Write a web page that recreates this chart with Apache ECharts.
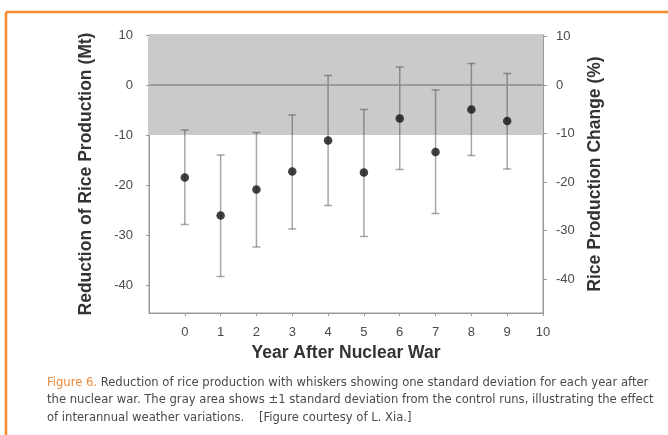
<!DOCTYPE html>
<html><head><meta charset="utf-8">
<script src="https://cdn.jsdelivr.net/npm/echarts@6/dist/echarts.min.js"></script>
<style>html,body{margin:0;padding:0;background:#fff}#c{width:668px;height:435px}</style>
</head><body><div id="c"></div>
<script>
// Data
const years = [0, 1, 2, 3, 4, 5, 6, 7, 8, 9];
const meanMt = [-18.5, -26.1, -20.9, -17.3, -11.1, -17.5, -6.7, -13.4, -4.9, -7.2];
const upperMt = [-9.0, -14.0, -9.5, -6.0, 1.9, -4.9, 3.6, -1.0, 4.3, 2.3];
const lowerMt = [-27.9, -38.3, -32.4, -28.8, -24.1, -30.3, -16.9, -25.7, -14.1, -16.8];
const controlBand = [-10, 10];
const yTicks = [10, 0, -10, -20, -30, -40];
const xTicks = [0, 1, 2, 3, 4, 5, 6, 7, 8, 9, 10];
const captionLines = [
  ['Figure 6.', ' Reduction of rice production with whiskers showing one standard deviation for each year after'],
  ['', 'the nuclear war. The gray area shows \u00b11 standard deviation from the control runs, illustrating the effect'],
  ['', 'of interannual weather variations.    [Figure courtesy of L. Xia.]']
];

const chart = echarts.init(document.getElementById('c'), null, {renderer: 'canvas'});
const font = '"Liberation Sans", Arial, sans-serif';
const capFont = '12.9px "Liberation Sans Narrow", "DejaVu Sans Condensed", sans-serif';
const axisCol = '#9a9a9a';
const labelCol = '#4a4a4a';

const errData = years.map((y, i) => [y, lowerMt[i], upperMt[i]]);

const captionGraphics = captionLines.map((ln, i) => ({
  type: 'text', left: 47, top: 376 + i * 17.5,
  style: {
    text: (ln[0] ? '{o|' + ln[0] + '}' : '') + '{t|' + ln[1] + '}',
    rich: {
      o: {fill: '#f0883a', font: capFont},
      t: {fill: '#4a4a4a', font: capFont}
    }
  }
}));

chart.setOption({
  animation: false,
  grid: {left: 149, right: 125, top: 35, bottom: 122, show: true, borderColor: axisCol, borderWidth: 1},
  xAxis: {
    type: 'value', min: -1, max: 10,
    name: 'Year After Nuclear War', nameLocation: 'middle', nameGap: 25,
    nameTextStyle: {fontFamily: font, fontWeight: 'bold', fontSize: 17.5, color: '#333'},
    splitLine: {show: false},
    axisLine: {onZero: false, lineStyle: {color: axisCol}},
    axisTick: {customValues: xTicks, length: 3, lineStyle: {color: axisCol}},
    axisLabel: {customValues: xTicks, margin: 13, fontFamily: font, fontSize: 13, color: labelCol}
  },
  yAxis: [{
    type: 'value', min: -45.6, max: 10, position: 'left',
    name: 'Reduction of Rice Production (Mt)', nameLocation: 'middle', nameGap: 54, nameRotate: 90,
    nameTextStyle: {fontFamily: font, fontWeight: 'bold', fontSize: 17.5, color: '#333'},
    splitLine: {show: false},
    axisLine: {show: true, onZero: false, lineStyle: {color: axisCol}},
    axisTick: {show: true, customValues: yTicks, length: 3, lineStyle: {color: axisCol}},
    axisLabel: {customValues: yTicks, margin: 16, fontFamily: font, fontSize: 13, color: labelCol}
  }, {
    type: 'value', min: -47, max: 10.3, position: 'right',
    name: 'Rice Production Change (%)', nameLocation: 'middle', nameGap: 40, nameRotate: 90,
    nameTextStyle: {fontFamily: font, fontWeight: 'bold', fontSize: 17.5, color: '#333'},
    splitLine: {show: false},
    axisLine: {show: true, onZero: false, lineStyle: {color: axisCol}},
    axisTick: {show: true, customValues: yTicks, length: 4, lineStyle: {color: axisCol}},
    axisLabel: {customValues: yTicks, margin: 13, fontFamily: font, fontSize: 13, color: labelCol}
  }],
  series: [{
    type: 'line', data: [], yAxisIndex: 0,
    markArea: {silent: true, itemStyle: {color: '#c9cacc'}, data: [[{yAxis: controlBand[1]}, {yAxis: controlBand[0]}]]},
    markLine: {silent: true, symbol: 'none', label: {show: false},
      lineStyle: {color: '#8c8c8c', width: 1.5, type: 'solid'}, data: [{yAxis: 0}]}
  }, {
    type: 'custom', yAxisIndex: 0, data: errData, z: 3,
    renderItem: function (params, api) {
      const x = api.value(0);
      const lo = api.coord([x, api.value(1)]);
      const hi = api.coord([x, api.value(2)]);
      const hw = 4;
      const st = {stroke: 'rgba(60,60,60,0.45)', lineWidth: 1.5};
      return {type: 'group', children: [
        {type: 'line', shape: {x1: lo[0], y1: lo[1], x2: hi[0], y2: hi[1]}, style: st},
        {type: 'line', shape: {x1: lo[0] - hw, y1: lo[1], x2: lo[0] + hw, y2: lo[1]}, style: st},
        {type: 'line', shape: {x1: hi[0] - hw, y1: hi[1], x2: hi[0] + hw, y2: hi[1]}, style: st}
      ]};
    }
  }, {
    type: 'scatter', yAxisIndex: 0, z: 4,
    data: years.map((y, i) => [y, meanMt[i]]),
    symbol: 'circle', symbolSize: 8.5, itemStyle: {color: '#111'}
  }],
  graphic: [
    {type: 'line', shape: {x1: 6, y1: 12, x2: 668, y2: 12}, style: {stroke: '#f58a2e', lineWidth: 2.5}},
    {type: 'line', shape: {x1: 6, y1: 12, x2: 6, y2: 435}, style: {stroke: '#f58a2e', lineWidth: 2.5}}
  ].concat(captionGraphics)
});
</script></body></html>
